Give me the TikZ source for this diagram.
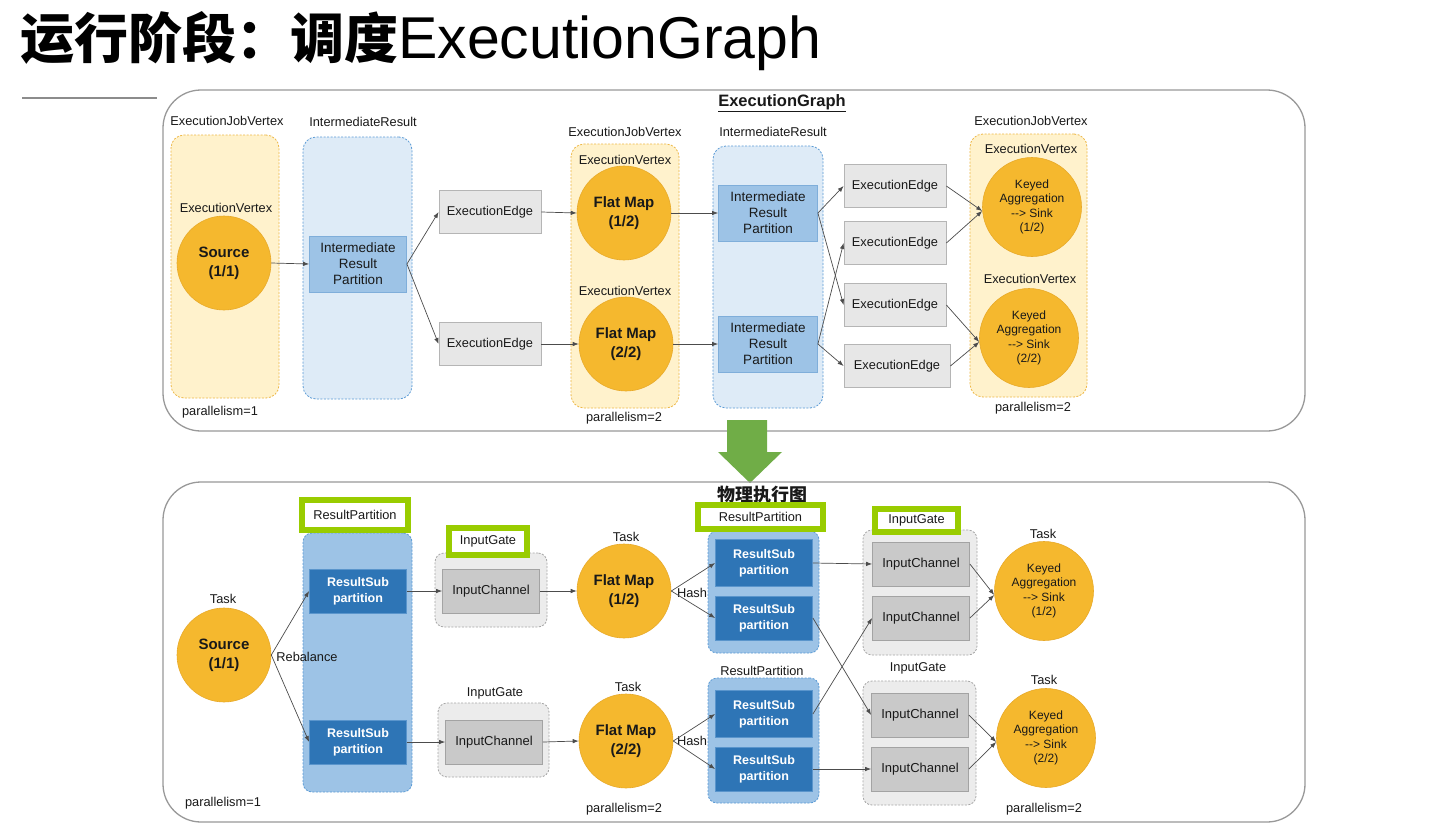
\documentclass[tikz,border=0pt]{standalone}
\usepackage{fontspec}
\setmainfont{Liberation Sans}
\newfontfamily\cjk{Noto Sans CJK SC}
\usepackage{xcolor}
\usetikzlibrary{arrows.meta, positioning, calc}

\definecolor{circfill}{HTML}{F5B82E}
\definecolor{circline}{HTML}{E8AA2A}
\definecolor{jobfill}{HTML}{FFF2CC}
\definecolor{jobline}{HTML}{EDB746}
\definecolor{resfill}{HTML}{DEEBF7}
\definecolor{resline}{HTML}{5B9BD5}
\definecolor{partfill}{HTML}{9DC3E6}
\definecolor{partline}{HTML}{7FAEDA}
\definecolor{subfill}{HTML}{2E75B6}
\definecolor{subline}{HTML}{5A95CC}
\definecolor{edgefill}{HTML}{E7E7E7}
\definecolor{edgeline}{HTML}{B5B5B5}
\definecolor{gatefill}{HTML}{ECECEC}
\definecolor{gateline}{HTML}{A6A6A6}
\definecolor{chanfill}{HTML}{C9C9C9}
\definecolor{chanline}{HTML}{A3A3A3}
\definecolor{hlgreen}{HTML}{99CC00}
\definecolor{downgreen}{HTML}{70AD47}

\newcommand{\tosink}{{-}{-}> Sink}

\begin{document}
\begin{tikzpicture}[x=1pt, y=-1pt,
  lab/.style={font=\fontsize{12.8}{15}\selectfont, inner sep=0pt, text=black!90},
  panel/.style={draw=black!40, line width=1.3pt, rounded corners=38pt},
  jobcol/.style={rectangle, rounded corners=13pt, draw=jobline, fill=jobfill, dash pattern=on 2pt off 1.5pt, line width=0.8pt, inner sep=0pt},
  rescol/.style={rectangle, rounded corners=13pt, draw=resline, fill=resfill, dash pattern=on 2pt off 1.5pt, line width=0.8pt, inner sep=0pt},
  subcol/.style={rectangle, rounded corners=9pt, draw=resline, fill=partfill, dash pattern=on 2pt off 1.5pt, line width=0.8pt, inner sep=0pt},
  gate/.style={rectangle, rounded corners=9pt, draw=gateline, fill=gatefill, dash pattern=on 2pt off 1.5pt, line width=0.8pt, inner sep=0pt},
  circ/.style={circle, fill=circfill, draw=circline, line width=0.6pt, minimum size=94pt, inner sep=0pt, align=center, text=black!90, font=\fontsize{15}{19}\selectfont\bfseries},
  kacirc/.style={circ, minimum size=99pt, font=\fontsize{12}{14.5}\selectfont},
  part/.style={rectangle, fill=partfill, draw=partline, line width=0.8pt, minimum width=97pt, minimum height=56pt, align=center, text=black!90, font=\fontsize{13.5}{16}\selectfont},
  edgebox/.style={rectangle, fill=edgefill, draw=edgeline, line width=0.8pt, minimum width=102pt, minimum height=43pt, text=black!90, font=\fontsize{12.8}{15}\selectfont},
  subpart/.style={rectangle, fill=subfill, draw=subline, line width=0.8pt, minimum width=97pt, minimum height=44pt, align=center, text=white, font=\fontsize{12.5}{16}\selectfont\bfseries},
  chan/.style={rectangle, fill=chanfill, draw=chanline, line width=0.8pt, minimum width=97pt, minimum height=44pt, text=black!90, font=\fontsize{13}{15}\selectfont},
  hl/.style={rectangle, draw=hlgreen, fill=white, line width=6pt, inner sep=0pt, text=black!90, font=\fontsize{12.8}{15}\selectfont},
  arr/.style={-{Latex[length=6pt,width=4.5pt]}, line width=0.7pt, draw=black!70},
]
\useasboundingbox (0,0) rectangle (1433,835);
\fill[white] (0,0) rectangle (1433,835);

% title
\node[anchor=base west, inner sep=0pt] (title) at (20,58)
  {{\cjk\bfseries\fontsize{54}{60}\selectfont 运行阶段：调度}{\fontsize{59}{64}\selectfont ExecutionGraph}};
\draw[black!45, line width=1.3pt] (22,98) -- (157,98);

% ---- ExecutionGraph panel ----
\draw[panel] (163,90) rectangle (1305,431);
\node[lab, font=\fontsize{16.5}{18}\selectfont\bfseries] (eglab) at (782,103) {\underline{ExecutionGraph}};

\node[jobcol, minimum width=108pt, minimum height=263pt] (jv1) at (225,266.5) {};
\node[rescol, minimum width=109pt, minimum height=262pt] (ir1) at (357.5,268) {};
\node[jobcol, minimum width=108pt, minimum height=264pt] (jv2) at (625,276) {};
\node[rescol, minimum width=110pt, minimum height=262pt] (ir2) at (768,277) {};
\node[jobcol, minimum width=117pt, minimum height=263pt] (jv3) at (1028.5,265.5) {};

\node[lab] (jv1lab) at (227,121) {ExecutionJobVertex};
\node[lab] (ir1lab) at (363,122) {IntermediateResult};
\node[lab] (jv2lab) at (625,132) {ExecutionJobVertex};
\node[lab] (ir2lab) at (773,132) {IntermediateResult};
\node[lab] (jv3lab) at (1031,121) {ExecutionJobVertex};

\node[lab] (ev1) at (226,208) {ExecutionVertex};
\node[lab] (ev2) at (625,160) {ExecutionVertex};
\node[lab] (ev3) at (625,291) {ExecutionVertex};
\node[lab] (ev4) at (1031,149) {ExecutionVertex};
\node[lab] (ev5) at (1030,279) {ExecutionVertex};

\node[circ] (src) at (224,263) {Source\\(1/1)};
\node[part] (irp) at (358,264) {Intermediate\\Result\\Partition};
\node[edgebox] (ee1) at (490,212) {ExecutionEdge};
\node[edgebox] (ee2) at (490,344) {ExecutionEdge};
\node[circ] (fm1) at (624,213) {Flat Map\\(1/2)};
\node[circ] (fm2) at (626,344) {Flat Map\\(2/2)};
\node[part, minimum width=99pt] (irp1) at (768,213) {Intermediate\\Result\\Partition};
\node[part, minimum width=99pt] (irp2) at (768,344) {Intermediate\\Result\\Partition};
\node[edgebox] (eea) at (895,186) {ExecutionEdge};
\node[edgebox] (eeb) at (895,243) {ExecutionEdge};
\node[edgebox] (eec) at (895,305) {ExecutionEdge};
\node[edgebox, minimum width=106pt] (eed) at (897,366) {ExecutionEdge};
\node[kacirc] (ka1) at (1032,207) {Keyed\\Aggregation\\\tosink\\(1/2)};
\node[kacirc] (ka2) at (1029,338) {Keyed\\Aggregation\\\tosink\\(2/2)};

\node[lab] (par1) at (220,412) {parallelism=1};
\node[lab] (par2) at (624,418) {parallelism=2};
\node[lab] (par3) at (1033,408) {parallelism=2};

\draw[arr] (src.east) -- (irp.west);
\draw[arr] (irp.east) -- (ee1.west);
\draw[arr] (irp.east) -- (ee2.west);
\draw[arr] (ee1.east) -- (fm1.west);
\draw[arr] (ee2.east) -- (fm2.west);
\draw[arr] (fm1.east) -- (irp1.west);
\draw[arr] (fm2.east) -- (irp2.west);
\draw[arr] (irp1.east) -- (eea.west);
\draw[arr] (irp1.east) -- (eec.west);
\draw[arr] (irp2.east) -- (eeb.west);
\draw[arr] (irp2.east) -- (eed.west);
\draw[arr] (eea.east) -- ([yshift=-4pt]ka1.west);
\draw[arr] (eeb.east) -- ([yshift=-4pt]ka1.west);
\draw[arr] (eec.east) -- ([yshift=-4pt]ka2.west);
\draw[arr] (eed.east) -- ([yshift=-4pt]ka2.west);

% big arrow down
\fill[downgreen] (727,420) -- (767,420) -- (767,452) -- (782,452) -- (750,483)
  -- (718,452) -- (727,452) -- cycle;

% ---- physical graph panel ----
\draw[panel] (163,482) rectangle (1305,822);
\node[lab, font=\cjk\bfseries\fontsize{18}{20}\selectfont] (phlab) at (762,495) {物理执行图};

\node[subcol, minimum width=109pt, minimum height=259pt] (rp1) at (357.5,662.5) {};
\node[gate, minimum width=112pt, minimum height=74pt] (ig1) at (491,590) {};
\node[gate, minimum width=111pt, minimum height=74pt] (ig2) at (493.5,740) {};
\node[subcol, minimum width=111pt, minimum height=122pt] (rp2) at (763.5,592) {};
\node[subcol, minimum width=111pt, minimum height=125pt] (rp3) at (763.5,740.5) {};
\node[gate, minimum width=114pt, minimum height=125pt] (ig3) at (920,592.5) {};
\node[gate, minimum width=113pt, minimum height=124pt] (ig4) at (919.5,743) {};

\node[hl, minimum width=106pt, minimum height=30pt] (hlrp1) at (355,515) {ResultPartition};
\node[hl, minimum width=78pt, minimum height=27pt] (hlig1) at (488,541.5) {InputGate};
\node[hl, minimum width=125pt, minimum height=24pt] (hlrp2) at (760.5,517) {ResultPartition};
\node[hl, minimum width=83pt, minimum height=23pt] (hlig3) at (916.5,520.5) {InputGate};
\node[lab] (ig2lab) at (495,693) {InputGate};
\node[lab] (rp3lab) at (762,671) {ResultPartition};
\node[lab] (ig4lab) at (918,668) {InputGate};

\node[lab] (t1) at (223,599) {Task};
\node[lab] (t2) at (626,537) {Task};
\node[lab] (t3) at (628,687) {Task};
\node[lab] (t4) at (1043,534) {Task};
\node[lab] (t5) at (1044,680) {Task};

\node[circ] (psrc) at (224,655) {Source\\(1/1)};
\node[subpart] (rs1) at (358,591) {ResultSub\\partition};
\node[subpart] (rs2) at (358,742) {ResultSub\\partition};
\node[chan] (ic1) at (491,591) {InputChannel};
\node[chan] (ic2) at (494,742) {InputChannel};
\node[circ] (pfm1) at (624,591) {Flat Map\\(1/2)};
\node[circ] (pfm2) at (626,741) {Flat Map\\(2/2)};
\node[subpart, minimum height=47pt] (rsa) at (764,563) {ResultSub\\partition};
\node[subpart] (rsb) at (764,618) {ResultSub\\partition};
\node[subpart, minimum height=47pt] (rsc) at (764,714) {ResultSub\\partition};
\node[subpart] (rsd) at (764,769) {ResultSub\\partition};
\node[chan] (ica) at (921,564) {InputChannel};
\node[chan] (icb) at (921,618) {InputChannel};
\node[chan] (icc) at (920,715) {InputChannel};
\node[chan] (icd) at (920,769) {InputChannel};
\node[kacirc] (pka1) at (1044,591) {Keyed\\Aggregation\\\tosink\\(1/2)};
\node[kacirc] (pka2) at (1046,738) {Keyed\\Aggregation\\\tosink\\(2/2)};

\node[lab] (rebal) at (307,657) {Rebalance};
\node[lab] (hash1) at (692,593) {Hash};
\node[lab] (hash2) at (692,741) {Hash};

\node[lab] (ppar1) at (223,803) {parallelism=1};
\node[lab] (ppar2) at (624,809) {parallelism=2};
\node[lab] (ppar3) at (1044,809) {parallelism=2};

\draw[arr] (psrc.east) -- (rs1.west);
\draw[arr] (psrc.east) -- (rs2.west);
\draw[arr] (rs1.east) -- (ic1.west);
\draw[arr] (rs2.east) -- (ic2.west);
\draw[arr] (ic1.east) -- (pfm1.west);
\draw[arr] (ic2.east) -- (pfm2.west);
\draw[arr] (pfm1.east) -- (rsa.west);
\draw[arr] (pfm1.east) -- (rsb.west);
\draw[arr] (pfm2.east) -- (rsc.west);
\draw[arr] (pfm2.east) -- (rsd.west);
\draw[arr] (rsa.east) -- (ica.west);
\draw[arr] (rsb.east) -- (icc.west);
\draw[arr] (rsc.east) -- (icb.west);
\draw[arr] (rsd.east) -- (icd.west);
\draw[arr] (ica.east) -- ([yshift=-4pt]pka1.west);
\draw[arr] (icb.east) -- ([yshift=-4pt]pka1.west);
\draw[arr] (icc.east) -- ([yshift=-4pt]pka2.west);
\draw[arr] (icd.east) -- ([yshift=-4pt]pka2.west);
\end{tikzpicture}
\end{document}
